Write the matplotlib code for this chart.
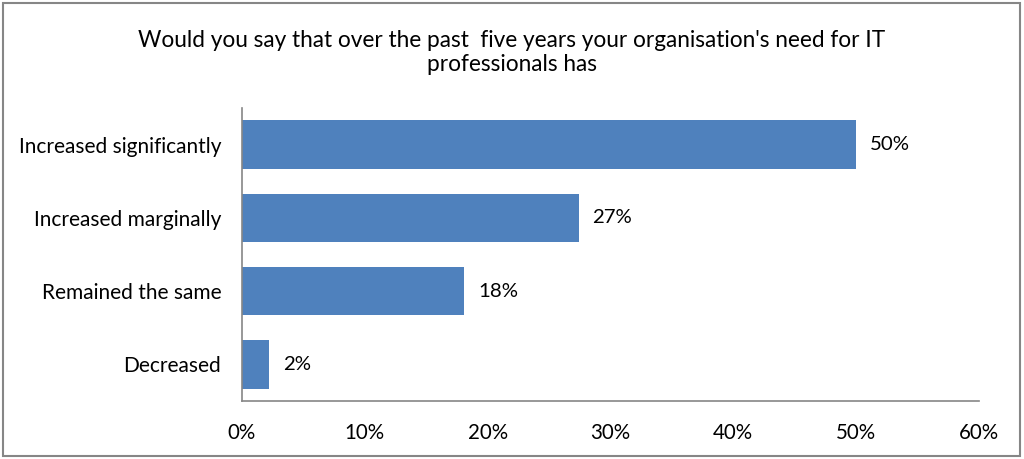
import matplotlib
matplotlib.use("Agg")
import matplotlib.pyplot as plt
from matplotlib.patches import Rectangle

categories = ["Increased significantly", "Increased marginally", "Remained the same", "Decreased"]
shares = [50.0, 27.4, 18.1, 2.2]
xticks = [0, 10, 20, 30, 40, 50, 60]
title = "Would you say that over the past  five years your organisation's need for IT\nprofessionals has"

plt.rcParams["font.family"] = ["Lato", "DejaVu Sans"]

fig = plt.figure(figsize=(10.24, 4.59), dpi=100)
ax = fig.add_axes([0.2363, 0.1264, 0.7197, 0.6383])

bar_color = "#4F81BD"
ypos = list(range(len(categories)))
ax.barh(ypos, shares, height=0.66, color=bar_color)
for y, v in zip(ypos, shares):
    ax.annotate(f"{v:.0f}%", xy=(v, y), xytext=(10, 0), textcoords="offset points",
                va="center", ha="left", fontsize=14.7, color="#000000")

ax.set_xlim(0, 60)
ax.set_ylim(len(categories) - 0.5, -0.5)
ax.set_yticks(ypos)
ax.set_yticklabels(categories, fontsize=15)
ax.set_xticks(xticks)
ax.set_xticklabels([f"{t}%" for t in xticks], fontsize=14.8)
ax.tick_params(axis="both", length=0)
ax.tick_params(axis="x", pad=16)
ax.tick_params(axis="y", pad=15)

for side in ("top", "right"):
    ax.spines[side].set_visible(False)
for side in ("left", "bottom"):
    ax.spines[side].set_color("#868686")
    ax.spines[side].set_linewidth(1.2)

fig.text(0.5, 0.886, title, ha="center", va="center", fontsize=16.3, linespacing=1.17)

# chart area frame
fig.patches.append(Rectangle((0.003, 0.006), 0.993, 0.988, transform=fig.transFigure,
                             fill=False, edgecolor="#868686", linewidth=1.5))

fig.savefig("out.png", dpi=100, facecolor="white")
